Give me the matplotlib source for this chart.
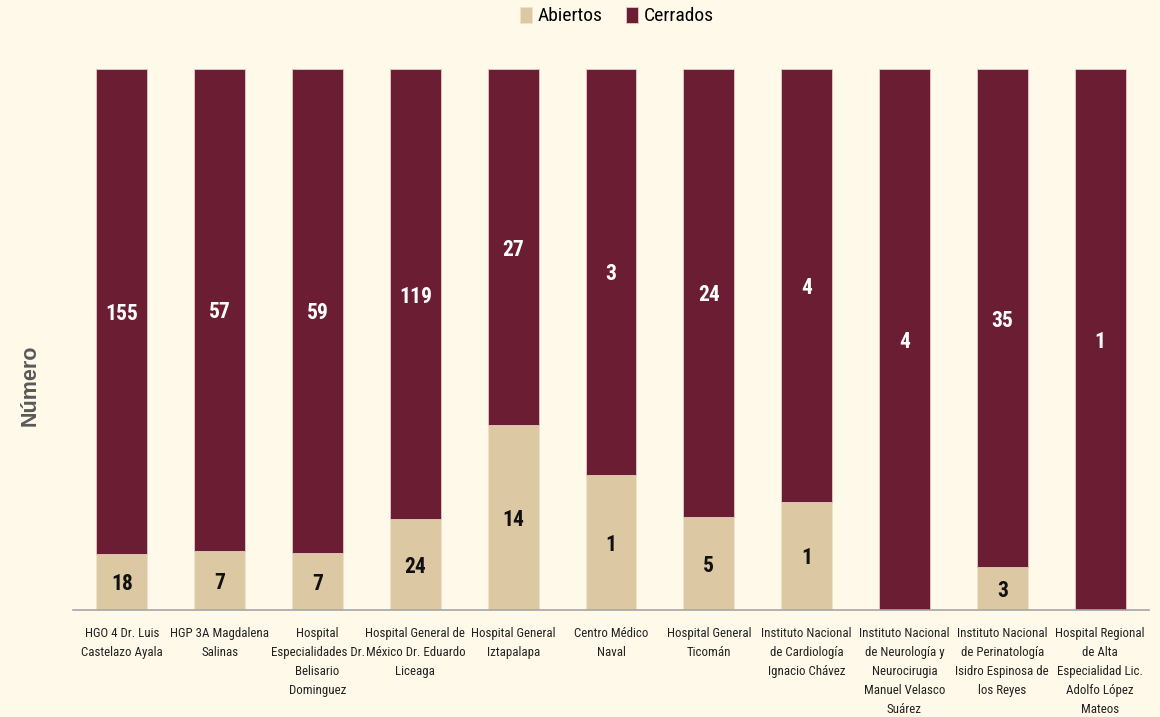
import matplotlib
matplotlib.use("Agg")
import matplotlib.pyplot as plt
from matplotlib import font_manager
import numpy as np

categories = [
    "HGO 4 Dr. Luis\nCastelazo Ayala",
    "HGP 3A Magdalena\nSalinas",
    "Hospital\nEspecialidades Dr.\nBelisario\nDominguez",
    "Hospital General de\nMéxico Dr. Eduardo\nLiceaga",
    "Hospital General\nIztapalapa",
    "Centro Médico\nNaval",
    "Hospital General\nTicomán",
    "Instituto Nacional\nde Cardiología\nIgnacio Chávez",
    "Instituto Nacional\nde Neurología y\nNeurocirugia\nManuel Velasco\nSuárez",
    "Instituto Nacional\nde Perinatología\nIsidro Espinosa de\nlos Reyes",
    "Hospital Regional\nde Alta\nEspecialidad Lic.\nAdolfo López\nMateos",
]
abiertos = [18, 7, 7, 24, 14, 1, 5, 1, 0, 3, 0]
cerrados = [155, 57, 59, 119, 27, 3, 24, 4, 4, 35, 1]

names = {f.name for f in font_manager.fontManager.ttflist}
cond = None
for cand in ["Liberation Sans Narrow", "DejaVu Sans Condensed", "Roboto Condensed",
             "Open Sans Condensed", "Noto Sans Condensed"]:
    if cand in names:
        cond = cand
        break
if cond is None:
    fam = "Liberation Sans"
    tick_fs, val_fs, leg_fs = 8.2, 14, 13
else:
    fam = cond
    tick_fs, val_fs, leg_fs = 9.3, 15.5, 14
plt.rcParams['font.family'] = [fam, 'DejaVu Sans']

bg = "#FFF9EA"
c_ab = "#DCC9A3"
c_ce = "#6A1D33"

fig = plt.figure(figsize=(11.6, 7.17), dpi=100, facecolor=bg)
ax = fig.add_axes([73/1160, (717-610)/717, (1149-73)/1160, (610-69)/717])
ax.set_facecolor(bg)

ab = np.array(abiertos, float)
ce = np.array(cerrados, float)
tot = ab + ce
pa = ab / tot
pc = ce / tot
x = np.arange(len(categories))
w = 0.52
ax.bar(x, pa, w, color=c_ab, edgecolor="#EFE3CC", linewidth=0.6, label="Abiertos")
ax.bar(x, pc, w, bottom=pa, color=c_ce, edgecolor="#E8C9C4", linewidth=0.6, label="Cerrados")

for i in range(len(x)):
    if ab[i] > 0:
        ax.text(x[i], pa[i] / 2, f"{int(ab[i])}", ha="center", va="center_baseline",
                fontsize=val_fs, fontweight="bold", color="#111111")
    if ce[i] > 0:
        ax.text(x[i], pa[i] + pc[i] / 2, f"{int(ce[i])}", ha="center", va="center_baseline",
                fontsize=val_fs, fontweight="bold", color="white")

ax.set_xlim(-0.5, len(x) - 0.5)
ax.set_ylim(0, 1)
ax.set_yticks([])
ax.set_xticks(x)
ax.set_xticklabels(categories, fontsize=tick_fs, color="#222222", linespacing=1.62)
ax.tick_params(axis="x", length=0, pad=12)
for s in ["top", "right", "left"]:
    ax.spines[s].set_visible(False)
ax.spines["bottom"].set_color("#A6A6A6")
ax.spines["bottom"].set_linewidth(1.2)

fig.text(30/1160, 1 - 385/717, "Número", rotation=90, ha="center", va="center",
         fontsize=15.5, fontweight="bold", color="#595959",
         family=["Liberation Sans", "DejaVu Sans"])

fig.legend(loc="center", bbox_to_anchor=(0.532, 1 - 16/717), ncol=2, frameon=False,
           fontsize=leg_fs, handlelength=0.6, handleheight=0.9, handletextpad=0.3,
           columnspacing=1.2)

fig.savefig("out.png", dpi=100, facecolor=bg)
